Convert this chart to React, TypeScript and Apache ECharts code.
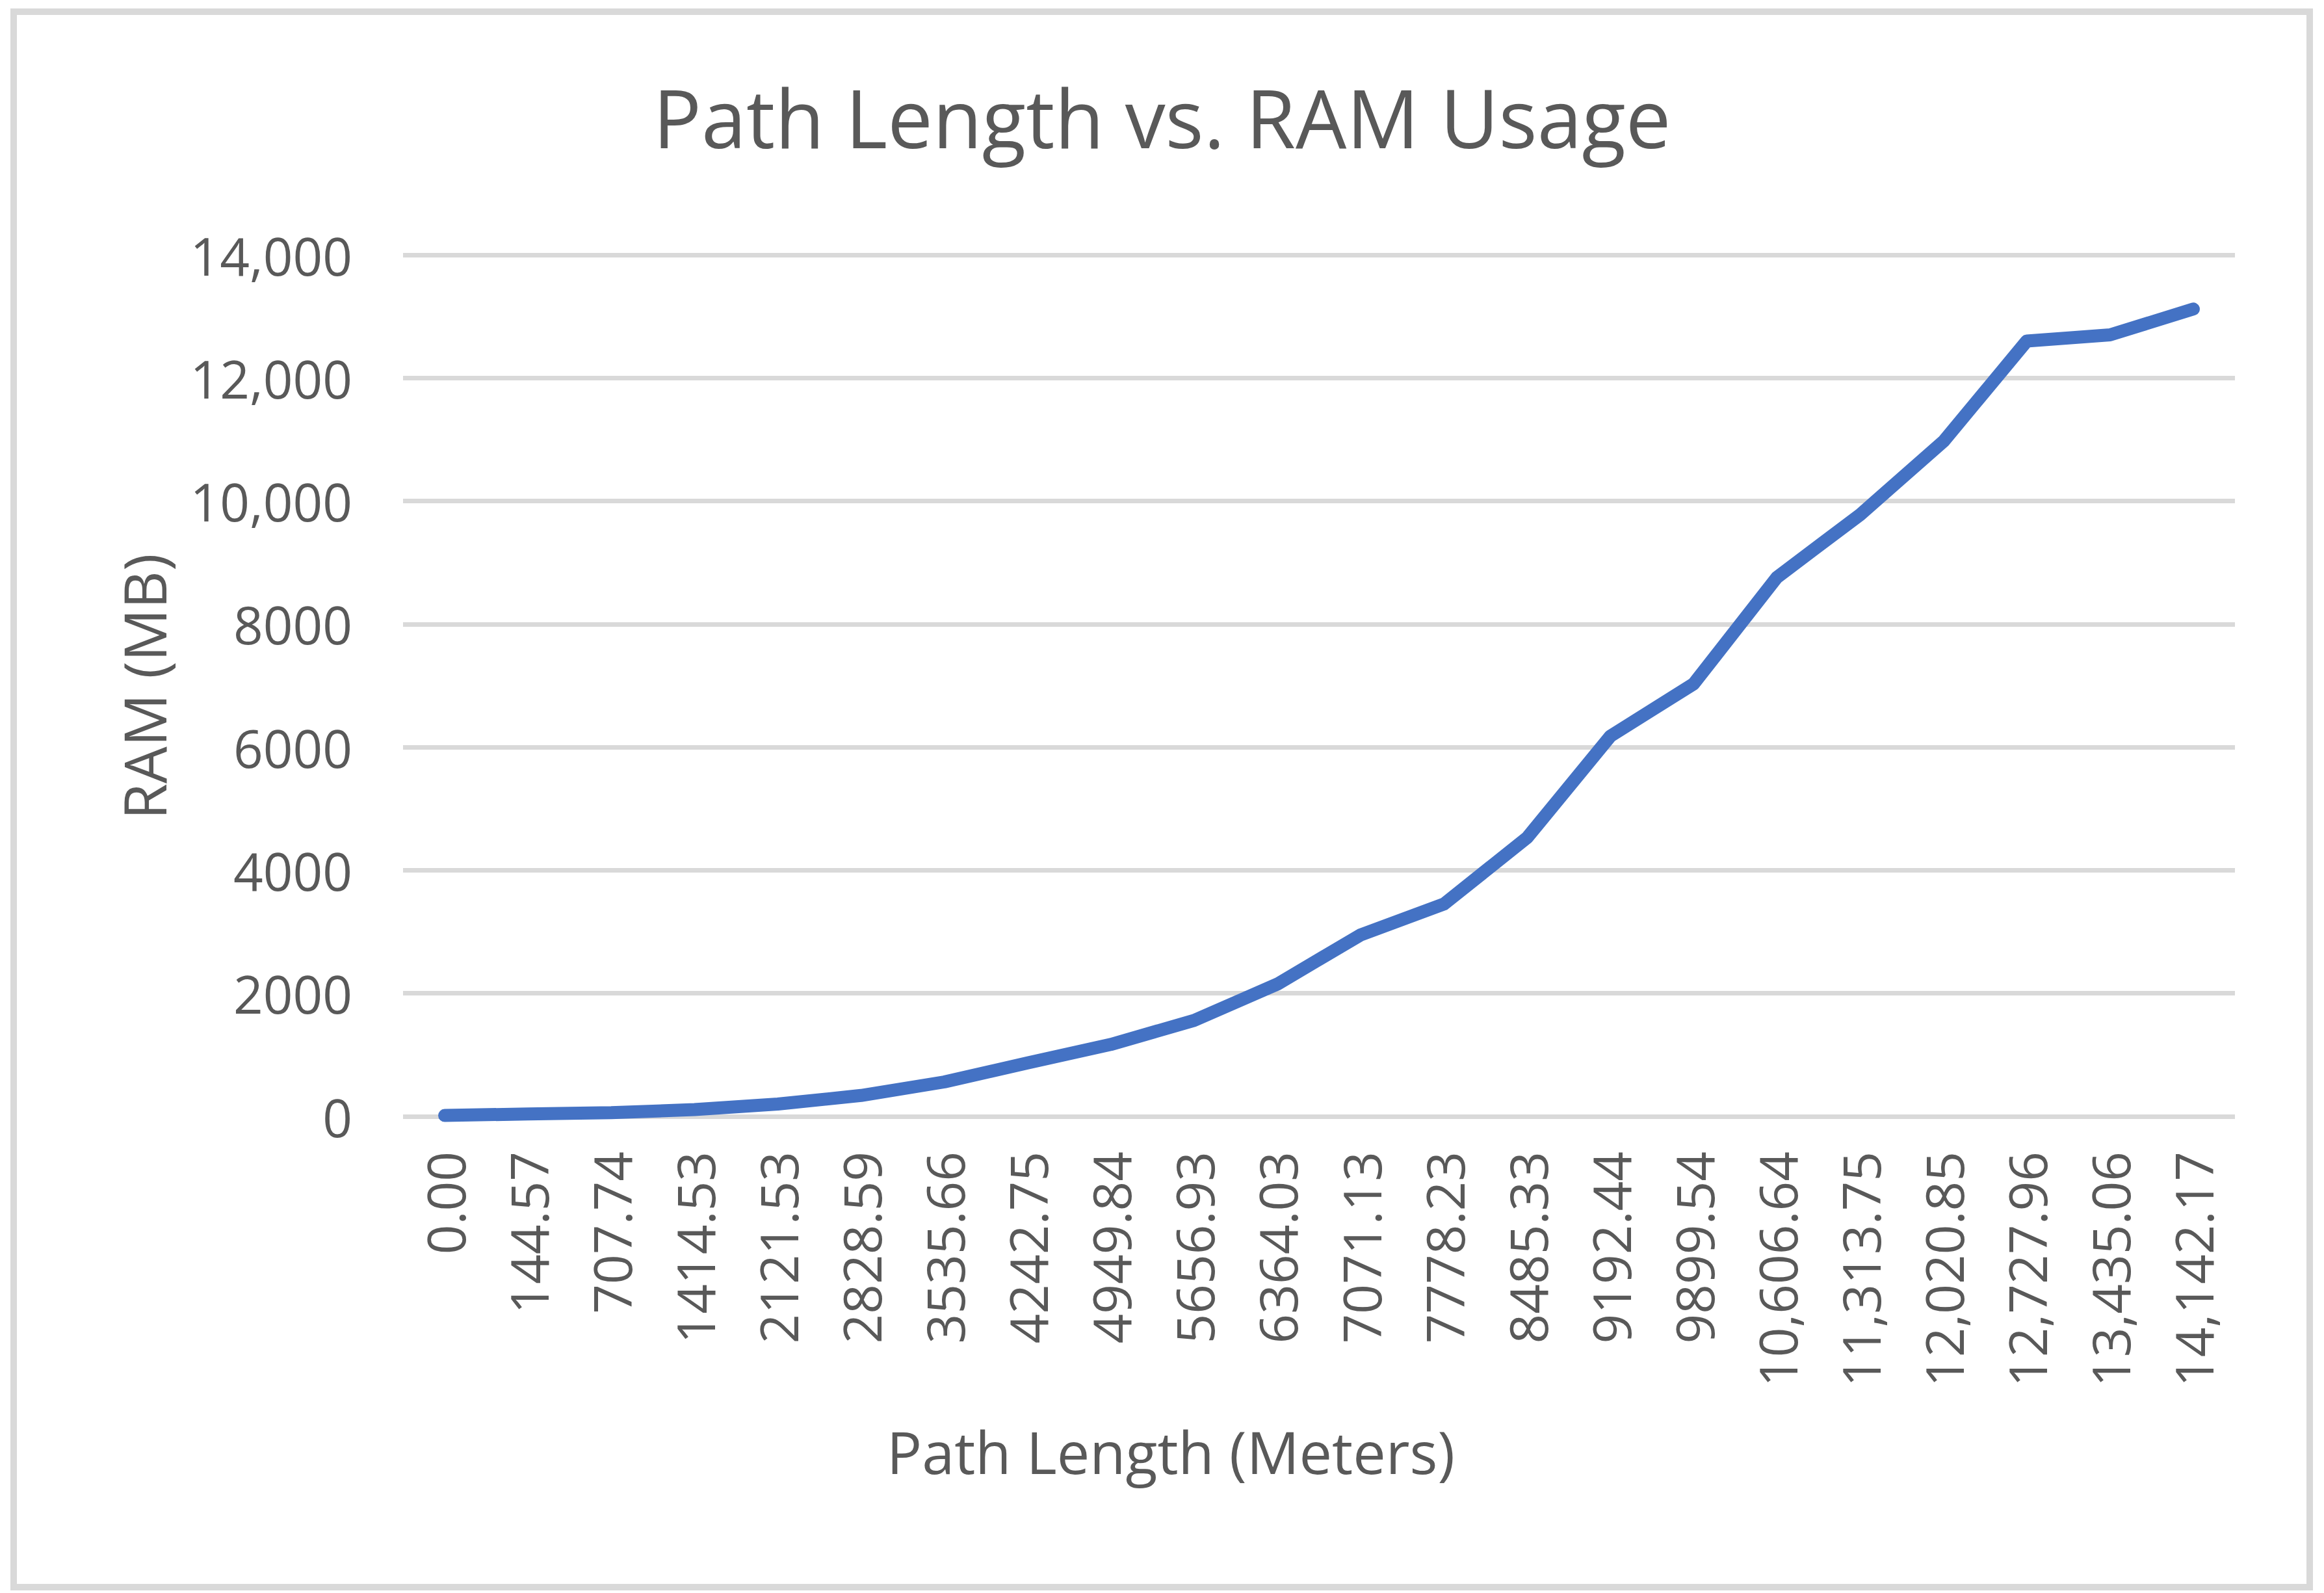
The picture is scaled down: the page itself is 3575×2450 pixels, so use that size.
import React, { useEffect, useRef } from "react";
import * as echarts from "echarts";

const categories = [
  "0.00", "144.57", "707.74", "1414.53", "2121.53", "2828.59", "3535.66",
  "4242.75", "4949.84", "5656.93", "6364.03", "7071.13", "7778.23", "8485.33",
  "9192.44", "9899.54", "10,606.64", "11,313.75", "12,020.85", "12,727.96",
  "13,435.06", "14,142.17",
];

const ramValues = [
  15, 40, 60, 110, 200, 340, 560, 870, 1170, 1560, 2150, 2950, 3450, 4530,
  6180, 7030, 8760, 9780, 10970, 12600, 12700, 13120,
];

const yTickLabels = ["0", "2000", "4000", "6000", "8000", "10,000", "12,000", "14,000"];

const TITLE = "Path Length vs. RAM Usage";
const X_NAME = "Path Length (Meters)";
const Y_NAME = "RAM (MB)";

const FONT = "'Open Sans', 'Noto Sans', sans-serif";
const TEXT = "#595959";
const GRID = "#D9D9D9";

export default function App() {
  const ref = useRef<HTMLDivElement>(null);
  useEffect(() => {
    if (!ref.current) return;
    const chart = echarts.init(ref.current, null, { renderer: "svg" });
    chart.setOption({
      animation: false,
      backgroundColor: "#ffffff",
      textStyle: { fontFamily: FONT },
      title: {
        text: TITLE,
        left: "center",
        top: 112,
        textStyle: { fontFamily: FONT, fontSize: 124, fontWeight: "normal", color: TEXT },
      },
      grid: { left: 620, right: 137, top: 392, bottom: 733, containLabel: false },
      xAxis: {
        type: "category",
        data: categories,
        boundaryGap: true,
        axisLine: { show: false },
        axisTick: { show: false },
        axisLabel: {
          rotate: 90,
          interval: 0,
          margin: 54,
          fontSize: 80,
          fontFamily: FONT,
          color: TEXT,
        },
      },
      yAxis: {
        type: "value",
        min: 0,
        max: 14000,
        interval: 2000,
        axisLine: { show: false },
        axisTick: { show: false },
        splitLine: { show: true, lineStyle: { color: GRID, width: 7 } },
        axisLabel: {
          margin: 78,
          fontSize: 80,
          fontFamily: FONT,
          color: TEXT,
          formatter: (v: number) => yTickLabels[Math.round(v / 2000)] ?? String(v),
        },
      },
      series: [
        {
          type: "line",
          data: ramValues,
          symbol: "none",
          smooth: false,
          lineStyle: { color: "#4472C4", width: 20, cap: "round", join: "round" },
        },
      ],
      graphic: [
        {
          type: "rect",
          shape: { x: 21, y: 18, width: 3532, height: 2423 },
          style: { fill: "none", stroke: GRID, lineWidth: 10 },
          silent: true,
        },
        {
          type: "text",
          x: 1801,
          y: 2232,
          style: {
            text: X_NAME,
            fontSize: 90,
            fontFamily: FONT,
            fill: TEXT,
            textAlign: "center",
            textVerticalAlign: "middle",
          },
        },
        {
          type: "text",
          x: 221,
          y: 1056,
          rotation: Math.PI / 2,
          style: {
            text: Y_NAME,
            fontSize: 90,
            fontFamily: FONT,
            fill: TEXT,
            textAlign: "center",
            textVerticalAlign: "middle",
          },
        },
      ],
    });
    return () => chart.dispose();
  }, []);
  return (
    <div
      ref={ref}
      style={{ position: "fixed", left: 0, top: 0, width: 3575, height: 2450, background: "#fff" }}
    />
  );
}
